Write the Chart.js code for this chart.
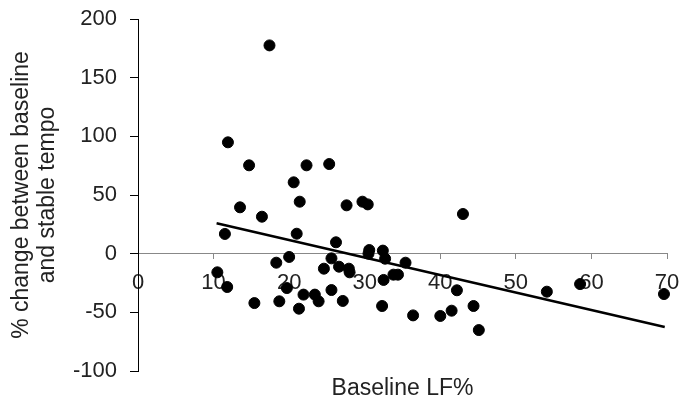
<!DOCTYPE html>
<html>
<head>
<meta charset="utf-8">
<script src="https://cdn.jsdelivr.net/npm/chart.js@4"></script>
<style>
  html, body { margin: 0; padding: 0; background: #fff; }
  #wrap { width: 682px; height: 403px; }
</style>
</head>
<body>
<div id="wrap"><canvas id="chart"></canvas></div>
<script>
// baseline LF% (x) vs % change between baseline and stable tempo (y)
const lfBaseline = [
    17.4, 11.9, 14.7, 22.3, 25.3, 20.6, 21.4, 29.7, 30.4, 13.5,
    16.4, 27.6, 11.5, 21.0, 26.2, 30.6, 32.4, 30.5, 32.7, 20.0,
    18.3, 25.6, 24.6, 26.6, 27.9, 28.0, 35.4, 10.5, 11.8, 33.8,
    34.4, 32.5, 19.7, 21.9, 23.4, 23.9, 25.6, 15.4, 18.7, 21.3,
    27.1, 32.3, 36.4, 43.0, 42.2, 44.4, 41.5, 40.0, 45.1, 54.1,
    58.5, 69.6
];
const pctChange = [
    177.5, 94.9, 75.3, 75.3, 76.4, 60.8, 44.3, 44.3, 42.0, 39.5,
    31.5, 41.2, 16.8, 17.0, 9.7, 3.1, 2.6, 0.0, -4.3, -2.8,
    -7.7, -4.0, -12.8, -11.1, -12.8, -15.9, -7.7, -15.9, -28.4, -17.9,
    -17.9, -22.4, -29.3, -34.9, -34.9, -40.6, -31.0, -42.1, -40.6, -46.9,
    -40.3, -44.6, -52.6, 33.8, -31.2, -44.6, -48.6, -53.1, -65.1, -32.4,
    -25.9, -34.4
];

// linear trend line end points
const trendX = [10.4, 69.7];
const trendY = [25.9, -62.5];

const xTicks = [0, 10, 20, 30, 40, 50, 60, 70];
const yTicks = [-100, -50, 0, 50, 100, 150, 200];

const font = "'Liberation Sans', Arial, sans-serif";

new Chart(document.getElementById("chart"), {
    type: "scatter",
    data: {
        datasets: [{
            type: "line",
            data: trendX.map((x, i) => ({ x: x, y: trendY[i] })),
            borderColor: "#000",
            borderWidth: 2.5,
            pointRadius: 0,
            fill: false,
            clip: false,
            order: 0
        }, {
            data: lfBaseline.map((x, i) => ({ x: x, y: pctChange[i] })),
            backgroundColor: "#000",
            borderColor: "#000",
            pointRadius: 5.5,
            clip: false,
            order: 1
        }]
    },
    options: {
        responsive: true,
        maintainAspectRatio: false,
        animation: false,
        layout: { padding: { top: 19, right: 15, left: 0, bottom: 0 } },
        plugins: { legend: { display: false }, tooltip: { enabled: false } },
        scales: {
            x: {
                type: "linear",
                position: { y: 0 },
                min: 0,
                max: 70,
                afterBuildTicks: s => { s.ticks = xTicks.map(v => ({ value: v })); },
                afterFit: s => { s.paddingLeft = 0; s.paddingRight = 0; },
                grid: { drawOnChartArea: false, color: "#888", tickLength: 5 },
                border: { color: "#888", width: 1 },
                ticks: { color: "#222", font: { family: font, size: 22 }, padding: 11, maxRotation: 0 }
            },
            x2: {
                type: "linear",
                position: "bottom",
                min: 0,
                max: 70,
                afterFit: s => { s.height = 32; s.paddingLeft = 0; s.paddingRight = 0; },
                grid: { display: false },
                border: { display: false },
                ticks: { display: false },
                title: {
                    display: true,
                    text: "Baseline LF%",
                    color: "#222",
                    font: { family: font, size: 23 },
                    padding: { top: 0, bottom: 1 }
                }
            },
            y: {
                type: "linear",
                position: "left",
                min: -100,
                max: 200,
                afterBuildTicks: s => { s.ticks = yTicks.map(v => ({ value: v })); },
                afterFit: s => { s.width = 138; s.paddingTop = 0; s.paddingBottom = 0; },
                grid: { drawOnChartArea: false, color: "#000", tickLength: 8 },
                border: { color: "#000", width: 1 },
                ticks: { color: "#222", font: { family: font, size: 22 }, padding: 13 },
                title: {
                    display: true,
                    text: ["% change between baseline", "and stable tempo"],
                    color: "#222",
                    font: { family: font, size: 23, lineHeight: 1.15 },
                    padding: { top: 8, bottom: 0 }
                }
            }
        }
    }
});
</script>
</body>
</html>
